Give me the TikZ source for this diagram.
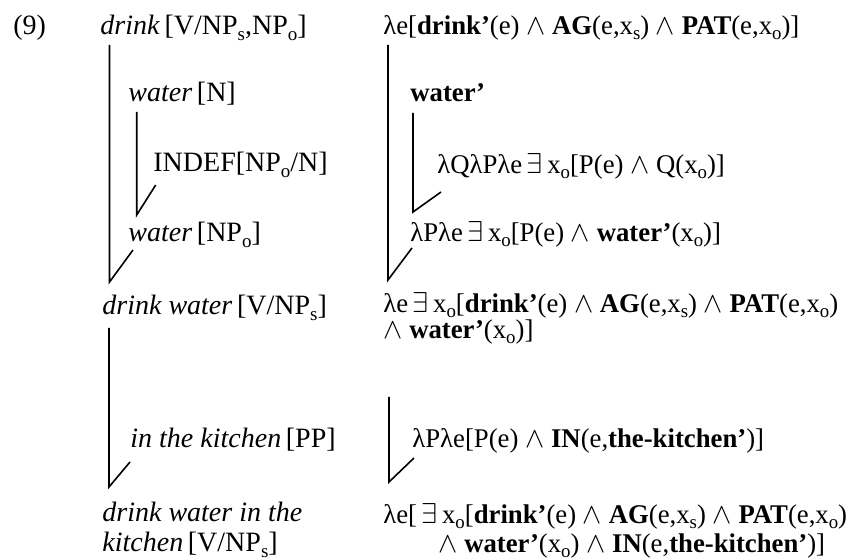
\documentclass[tikz,border=0pt]{standalone}
\usepackage{fontspec}
\setmainfont{Liberation Serif}
\newfontfamily\semfont[Ligatures=TeX,FakeStretch=0.99]{Liberation Serif}
\newcommand{\subs}[1]{\raisebox{-0.4ex}{\fontsize{9.5}{10}\selectfont #1}}
\newcommand{\conj}{\ensuremath{\wedge}}
\newcommand{\exq}{\ensuremath{\exists}}

\begin{document}
\begin{tikzpicture}[x=0.5pt,y=-0.5pt,
  lbl/.style={anchor=base west,inner sep=0pt,font=\fontsize{14}{17}\selectfont},
  sem/.style={lbl,font=\semfont\fontsize{13.5}{16}\selectfont},
  link/.style={line width=0.8pt}]
\useasboundingbox (0,0) rectangle (858,560);
% example number
\node[lbl] (num) at (13,35) {(9)};
% syntax column
\node[lbl] (dV)   at (100,35)  {\textit{drink}\,[V/NP\subs{s},NP\subs{o}]};
\node[lbl] (wN)   at (128,102) {\textit{water}\,[N]};
\node[lbl] (ind)  at (153,172) {INDEF[NP\subs{o}/N]};
\node[lbl] (wNP)  at (128,242) {\textit{water}\,[NP\subs{o}]};
\node[lbl] (dw)   at (102,315) {\textit{drink water}\,[V/NP\subs{s}]};
\node[lbl] (pp)   at (130,448) {\textit{in the kitchen}\,[PP]};
\node[lbl] (dwk)  at (102,522) {\textit{drink water in the}};
\node[lbl] (dwk2) at (102,552) {\textit{kitchen}\,[V/NP\subs{s}]};
% semantics column
\node[sem] (sdV)  at (383,35)  {λe[\textbf{drink'}(e) \conj{} \textbf{AG}(e,x\subs{s}) \conj{} \textbf{PAT}(e,x\subs{o})]};
\node[sem] (swN)  at (410,102) {\textbf{water'}};
\node[sem] (sind) at (437,174) {λQλPλe\,\exq\,x\subs{o}[P(e) \conj{} Q(x\subs{o})]};
\node[sem] (swNP) at (410,242) {λPλe\,\exq\,x\subs{o}[P(e) \conj{} \textbf{water'}(x\subs{o})]};
\node[sem] (sdw)  at (383,313) {λe\,\exq\,x\subs{o}[\textbf{drink'}(e) \conj{} \textbf{AG}(e,x\subs{s}) \conj{} \textbf{PAT}(e,x\subs{o})};
\node[sem] (sdw2) at (383,339) {\conj{} \textbf{water'}(x\subs{o})]};
\node[sem] (spp)  at (412,448) {λPλe[P(e) \conj{} \textbf{IN}(e,\textbf{the-kitchen'})]};
\node[sem] (sdwk) at (383,524) {λe[\,\exq\,x\subs{o}[\textbf{drink'}(e) \conj{} \textbf{AG}(e,x\subs{s}) \conj{} \textbf{PAT}(e,x\subs{o})};
\node[sem] (sdwk2) at (438,553) {\conj{} \textbf{water'}(x\subs{o}) \conj{} \textbf{IN}(e,\textbf{the-kitchen'})]};
% combination lines
\coordinate (t1) at (109.5,45);  \coordinate (c1) at (109.5,282); \coordinate (e1) at (133,250);
\coordinate (t2) at (136.7,112); \coordinate (c2) at (136.7,215); \coordinate (e2) at (155.7,185);
\coordinate (t3) at (109,328);   \coordinate (c3) at (109,487);   \coordinate (e3) at (130,462);
\coordinate (t4) at (388,45);    \coordinate (c4) at (388,280);   \coordinate (e4) at (412,248);
\coordinate (t5) at (413,113);   \coordinate (c5) at (413,212);   \coordinate (e5) at (441,192);
\coordinate (t6) at (389,397);   \coordinate (c6) at (389,482);   \coordinate (e6) at (414,458);
\foreach \i in {1,...,6}
  \draw[link] (t\i) -- (c\i) -- (e\i);
\end{tikzpicture}
\end{document}
